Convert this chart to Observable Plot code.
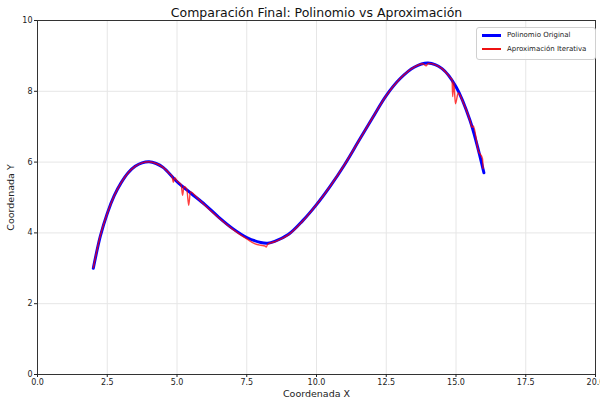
<!DOCTYPE html>
<html>
<head>
<meta charset="utf-8">
<script src="https://cdn.jsdelivr.net/npm/d3@7"></script>
<script src="https://cdn.jsdelivr.net/npm/@observablehq/plot@0.6"></script>
<style>
  html, body { margin: 0; padding: 0; background: #fff; }
  #wrap { position: relative; width: 600px; height: 400px; font-family: "DejaVu Sans", sans-serif; }
  #legend { position: absolute; left: 476px; top: 27px; width: 120px; height: 33px; border: 1px solid #d0d0d0; border-radius: 3px; background: rgba(255,255,255,0.85); font-size: 7px; color: #222; box-sizing: border-box; }
  .item { position: absolute; left: 5px; height: 10px; display: flex; align-items: center; white-space: nowrap; }
  .sw { width: 19px; margin-right: 6px; flex: none; }
</style>
</head>
<body>
<div id="wrap">
  <div id="chart"></div>
  <div id="legend">
    <div class="item" style="top:2px"><div class="sw" style="height:3px;background:#0000ff"></div>Polinomio Original</div>
    <div class="item" style="top:16px"><div class="sw" style="height:1.5px;background:#ee1111"></div>Aproximación Iterativa</div>
  </div>
</div>
<script>
const titleText = "Comparación Final: Polinomio vs Aproximación";
const xLabel = "Coordenada X";
const yLabel = "Coordenada Y";
const xTicks = [0, 2.5, 5, 7.5, 10, 12.5, 15, 17.5, 20];
const yTicks = [0, 2, 4, 6, 8, 10];

// Polinomio original
const polyX = [2.0, 2.25, 2.5, 2.75, 3.0, 3.25, 3.5, 3.75, 4.0, 4.25, 4.5, 5.0, 5.5, 6.0, 6.5, 7.0, 7.5, 8.0, 8.25, 8.5, 9.0, 9.5, 10.0, 10.5, 11.0, 11.5, 12.0, 12.5, 13.0, 13.5, 14.0, 14.5, 15.0, 15.5, 16.0];
const polyY = [3.0, 3.9, 4.55, 5.05, 5.42, 5.70, 5.88, 5.98, 6.01, 5.96, 5.85, 5.45, 5.12, 4.80, 4.44, 4.12, 3.87, 3.73, 3.71, 3.76, 3.96, 4.34, 4.80, 5.33, 5.92, 6.58, 7.24, 7.88, 8.36, 8.68, 8.80, 8.64, 8.13, 7.18, 5.70];

// Aproximación iterativa (including glitches)
const approxX = [2.0, 2.25, 2.5, 2.75, 3.0, 3.25, 3.5, 3.75, 4.0, 4.25, 4.5, 4.75, 4.82, 4.87, 4.92, 5.0, 5.15, 5.2, 5.25, 5.35, 5.42, 5.48, 5.75, 6.0, 6.5, 7.0, 7.5, 7.8, 8.0, 8.15, 8.2, 8.25, 8.5, 9.0, 9.5, 10.0, 10.5, 11.0, 11.5, 12.0, 12.5, 13.0, 13.5, 13.8, 13.93, 14.0, 14.5, 14.8, 14.86, 14.88, 14.92, 14.98, 15.08, 15.25, 15.5, 15.58, 15.62, 15.8, 15.95, 15.97];
const approxY = [3.02, 3.92, 4.55, 5.05, 5.42, 5.70, 5.88, 5.98, 6.01, 5.96, 5.85, 5.66, 5.60, 5.43, 5.56, 5.47, 5.36, 5.06, 5.31, 5.24, 4.78, 5.16, 4.97, 4.78, 4.42, 4.10, 3.83, 3.69, 3.65, 3.63, 3.60, 3.68, 3.75, 3.95, 4.33, 4.80, 5.33, 5.92, 6.58, 7.24, 7.88, 8.36, 8.68, 8.78, 8.72, 8.79, 8.64, 8.38, 8.32, 7.85, 8.26, 7.65, 7.95, 7.70, 7.18, 6.98, 7.02, 6.32, 6.10, 5.82];

const poly = polyX.map((x, i) => ({x, y: polyY[i]}));
const approx = approxX.map((x, i) => ({x, y: approxY[i]}));

const chart = Plot.plot({
  width: 600,
  height: 400,
  marginLeft: 37,
  marginRight: 5,
  marginTop: 20,
  marginBottom: 26,
  style: {fontFamily: "DejaVu Sans, sans-serif", fontSize: "8px", color: "#222", background: "#fff"},
  x: {domain: [0, 20]},
  y: {domain: [0, 10]},
  marks: [
    Plot.gridX(xTicks, {stroke: "#e6e6e6", strokeOpacity: 1}),
    Plot.gridY(yTicks, {stroke: "#e6e6e6", strokeOpacity: 1}),
    Plot.frame({stroke: "#333"}),
    Plot.axisX(xTicks, {tickSize: 3, tickFormat: d => d.toFixed(1), tickPadding: 2, label: xLabel, labelAnchor: "center", labelArrow: "none", labelOffset: 22, fontSize: 8}),
    Plot.axisY(yTicks, {tickSize: 3, tickFormat: d => String(d), tickPadding: 2, label: yLabel, labelAnchor: "center", labelArrow: "none", labelOffset: 30, fontSize: 8}),
    Plot.line(poly, {x: "x", y: "y", stroke: "#0000ff", strokeWidth: 3, curve: "catmull-rom"}),
    Plot.line(approx, {x: "x", y: "y", stroke: "#ff0000", strokeWidth: 1.4, strokeOpacity: 0.75, curve: "monotone-x"}),
    Plot.text([titleText], {frameAnchor: "top", lineAnchor: "middle", dy: -8, fontSize: 12.5, fill: "#111"})
  ]
});
chart.querySelectorAll("[aria-label='x-axis label'] text, [aria-label='y-axis label'] text").forEach(t => t.style.fontSize = "9.5px");
document.getElementById("chart").appendChild(chart);
</script>
</body>
</html>
